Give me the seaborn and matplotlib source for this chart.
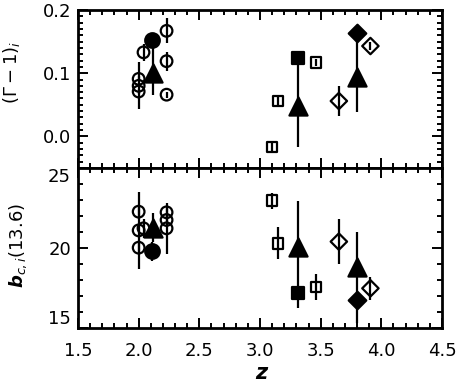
import numpy as np
import pandas as pd
import seaborn as sns
import matplotlib.pyplot as plt
from matplotlib.ticker import MultipleLocator

sns.set_style("ticks")
plt.rcParams['font.family'] = ['DejaVu Sans']
plt.rcParams['mathtext.fontset'] = 'dejavusans'
for k in ['text.color', 'axes.labelcolor', 'xtick.color', 'ytick.color', 'axes.edgecolor']:
    plt.rcParams[k] = 'black'

# redshifts of each group (shared by both panels)
z_circ = [2.00, 2.00, 2.00, 2.04, 2.23, 2.23, 2.23]
z_fcirc = [2.11]
z_tri = [2.12, 3.31, 3.80]
z_sq = [3.10, 3.15, 3.46]
z_fsq = [3.31]
z_dia = [3.65, 3.91]
z_fdia = [3.80]

# top panel: (Gamma-1)_i
g_circ = [0.091, 0.080, 0.071, 0.133, 0.167, 0.119, 0.066]
g_circ_err = [0.004, 0.037, 0.004, 0.013, 0.020, 0.015, 0.005]
g_fcirc = [0.152]
g_fcirc_err = [0.010]
g_tri = [0.100, 0.048, 0.094]
g_tri_lo = [0.034, 0.064, 0.056]
g_tri_hi = [0.040, 0.076, 0.069]
g_sq = [-0.017, 0.056, 0.117]
g_sq_err = [0.008, 0.006, 0.006]
g_fsq = [0.124]
g_dia = [0.056, 0.143]
g_dia_err = [0.024, 0.006]
g_fdia = [0.163]

# bottom panel: b_c,i(13.6)
b_circ = [22.27, 21.10, 20.02, 21.23, 22.23, 21.75, 21.23]
b_circ_err = [0.3, 2.4, 0.3, 0.6, 0.3, 0.3, 1.6]
b_fcirc = [19.80]
b_fcirc_err = [0.6]
b_tri = [21.23, 20.08, 18.83]
b_tri_lo = [0.86, 3.85, 3.54]
b_tri_hi = [0.96, 2.88, 2.19]
b_sq = [22.96, 20.29, 17.58]
b_sq_err = [0.5, 1.0, 0.8]
b_fsq = [17.17]
b_dia = [20.40, 17.48]
b_dia_err = [1.4, 0.7]
b_fdia = [16.75]

fig = plt.figure(figsize=(4.58, 3.85), dpi=100)
ax1 = fig.add_axes([78/458, 1-168/385, 364/458, 158/385])
ax2 = fig.add_axes([78/458, 1-328/385, 364/458, 160/385], sharex=ax1)

lw = 1.6


def errs(ax, x, y, e):
    ax.errorbar(x, y, yerr=e, fmt='none', ecolor='black', elinewidth=lw, capsize=0, zorder=2)


def pts(ax, x, y, marker, size, filled):
    df = pd.DataFrame({'z': x, 'v': y})
    sns.scatterplot(data=df, x='z', y='v', ax=ax, marker=marker, s=size,
                    facecolor='black' if filled else 'none', edgecolor='black',
                    linewidth=lw, zorder=3, legend=False)


panels = [
    (ax1, g_circ, g_circ_err, g_fcirc, g_fcirc_err, g_tri, g_tri_lo, g_tri_hi,
     g_sq, g_sq_err, g_fsq, g_dia, g_dia_err, g_fdia),
    (ax2, b_circ, b_circ_err, b_fcirc, b_fcirc_err, b_tri, b_tri_lo, b_tri_hi,
     b_sq, b_sq_err, b_fsq, b_dia, b_dia_err, b_fdia),
]

for (ax, circ, circ_e, fcirc, fcirc_e, tri, tri_lo, tri_hi,
     sq, sq_e, fsq, dia, dia_e, fdia) in panels:
    errs(ax, z_circ, circ, circ_e)
    errs(ax, z_fcirc, fcirc, fcirc_e)
    errs(ax, z_tri, tri, [tri_lo, tri_hi])
    errs(ax, z_sq, sq, sq_e)
    errs(ax, z_dia, dia, dia_e)
    pts(ax, z_circ, circ, 'o', 70, False)
    pts(ax, z_fcirc, fcirc, 'o', 110, True)
    pts(ax, z_tri, tri, '^', 170, True)
    pts(ax, z_sq, sq, 's', 55, False)
    pts(ax, z_fsq, fsq, 's', 80, True)
    pts(ax, z_dia, dia, 'D', 70, False)
    pts(ax, z_fdia, fdia, 'D', 80, True)

    ax.set_xlabel('')
    ax.set_ylabel('')
    for sp in ax.spines.values():
        sp.set_linewidth(2)
        sp.set_visible(True)
        sp.set_color('black')
    ax.tick_params(which='both', direction='in', top=True, right=True,
                   width=1.4, labelsize=13, pad=5, colors='black')
    ax.tick_params(which='major', length=7)
    ax.tick_params(which='minor', length=3.5)

ax1.set_xlim(1.5, 4.5)
ax1.xaxis.set_major_locator(MultipleLocator(0.5))
ax1.xaxis.set_minor_locator(MultipleLocator(0.1))
ax1.tick_params(axis='x', labelbottom=False)

ax1.set_ylim(-0.05, 0.2)
ax1.set_yticks([0.0, 0.1, 0.2])
ax1.set_yticklabels(['0.0', '0.1', '0.2'])
ax1.yaxis.set_minor_locator(MultipleLocator(0.01))

ax2.set_ylim(15, 25)
ax2.set_yticks([15, 20, 25])
ax2.set_yticklabels(['15', '20', '25'])
ax2.yaxis.set_minor_locator(MultipleLocator(1))
labs = ax2.get_yticklabels()
labs[0].set_verticalalignment('bottom')
labs[2].set_verticalalignment('top')
ax2.set_xticks([1.5, 2.0, 2.5, 3.0, 3.5, 4.0, 4.5])
ax2.set_xticklabels(['1.5', '2.0', '2.5', '3.0', '3.5', '4.0', '4.5'])
ax2.tick_params(axis='x', pad=10)

fig.text(12/458, 1-72/385, r'$(\Gamma-1)_i$', rotation=90, ha='center', va='center', fontsize=13)
fig.text(18/458, 1-245/385, r'$\boldsymbol{b}_{c,i}(13.6)$', rotation=90, ha='center', va='center', fontsize=13)
fig.text(261/458, 1-373/385, 'z', ha='center', va='center', fontsize=15,
         fontstyle='italic', fontweight='bold')

fig.savefig('out.png', dpi=100)
